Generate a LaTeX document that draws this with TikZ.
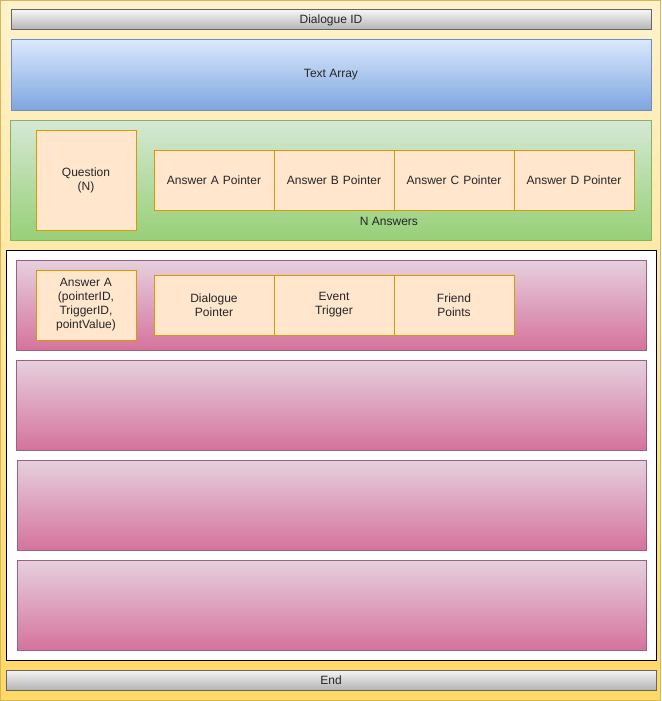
\documentclass[tikz,border=0pt]{standalone}
\usepackage{fontspec}
\setmainfont{Liberation Sans}
\definecolor{yelTop}{HTML}{FFF2CC}
\definecolor{yelBot}{HTML}{FFD966}
\definecolor{yelLine}{HTML}{D6B656}
\definecolor{grayTop}{HTML}{F5F5F5}
\definecolor{grayBot}{HTML}{B3B3B3}
\definecolor{grayLine}{HTML}{666666}
\definecolor{blueTop}{HTML}{DAE8FC}
\definecolor{blueBot}{HTML}{7EA6E0}
\definecolor{blueLine}{HTML}{6C8EBF}
\definecolor{greenTop}{HTML}{D5E8D4}
\definecolor{greenBot}{HTML}{97D077}
\definecolor{greenLine}{HTML}{82B366}
\definecolor{pinkTop}{HTML}{E6D0DE}
\definecolor{pinkBot}{HTML}{D5739D}
\definecolor{pinkLine}{HTML}{996185}
\definecolor{orFill}{HTML}{FFE6CC}
\definecolor{orLine}{HTML}{D79B00}
\definecolor{txt}{HTML}{333333}
\begin{document}
\begin{tikzpicture}[x=1pt,y=-1pt,
  every node/.style={font=\fontsize{12}{14}\selectfont, text=black!85, align=center, inner sep=0pt},
  box/.style={draw, line width=1pt},
  graybar/.style={box, draw=grayLine, top color=grayTop, bottom color=grayBot},
  bluebar/.style={box, draw=blueLine, top color=blueTop, bottom color=blueBot},
  greenbar/.style={box, draw=greenLine, top color=greenTop, bottom color=greenBot},
  pinkbar/.style={box, draw=pinkLine, top color=pinkTop, bottom color=pinkBot},
  orbox/.style={box, draw=orLine, fill=orFill, text width=110pt}
]
\useasboundingbox (0,0) rectangle (661,701);
% outer container
\path[top color=yelTop, bottom color=yelBot, draw=yelLine, line width=1pt] (0.5,0.5) rectangle (660.5,700.5);
% Dialogue ID
\path[graybar] (11,10) rectangle (651,30);
\node (did) at (331,20) {Dialogue ID};
% Text Array
\path[bluebar] (11,40) rectangle (651,110);
\node (ta) at (331,75) {Text Array};
% Green question panel
\path[greenbar] (10,120) rectangle (651,240);
\node[orbox, minimum width=100pt, minimum height=100pt, text width=96pt] (q) at (86,180) {Question\\(N)};
\node[orbox, minimum width=120pt, minimum height=60pt, text width=116pt] (pa) at (214,180) {Answer A Pointer};
\node[orbox, minimum width=120pt, minimum height=60pt, text width=116pt] (pb) at (334,180) {Answer B Pointer};
\node[orbox, minimum width=120pt, minimum height=60pt, text width=116pt] (pc) at (454,180) {Answer C Pointer};
\node[orbox, minimum width=120pt, minimum height=60pt, text width=116pt] (pd) at (574,180) {Answer D Pointer};
\node (na) at (389,221) {N Answers};
% answers container
\path[draw=black, line width=1pt, fill=white] (6,250) rectangle (656,660);
\path[pinkbar] (16,260) rectangle (646,350);
\path[pinkbar] (16,360) rectangle (646,450);
\path[pinkbar] (17,460) rectangle (646,550);
\path[pinkbar] (17,560) rectangle (646,650);
\node[orbox, minimum width=100pt, minimum height=70pt, text width=96pt] (aa) at (86,305) {Answer A\\(pointerID,\\TriggerID,\\pointValue)};
\node[orbox, minimum width=120pt, minimum height=60pt, text width=116pt] (dp) at (214,305) {Dialogue\\Pointer};
\node[orbox, minimum width=120pt, minimum height=60pt, text width=116pt] (et) at (334,305) {Event\\Trigger};
\node[orbox, minimum width=120pt, minimum height=60pt, text width=116pt] (fp) at (454,305) {Friend\\Points};
% End
\path[graybar] (6,670) rectangle (656,690);
\node (end) at (331,680) {End};
\end{tikzpicture}
\end{document}
